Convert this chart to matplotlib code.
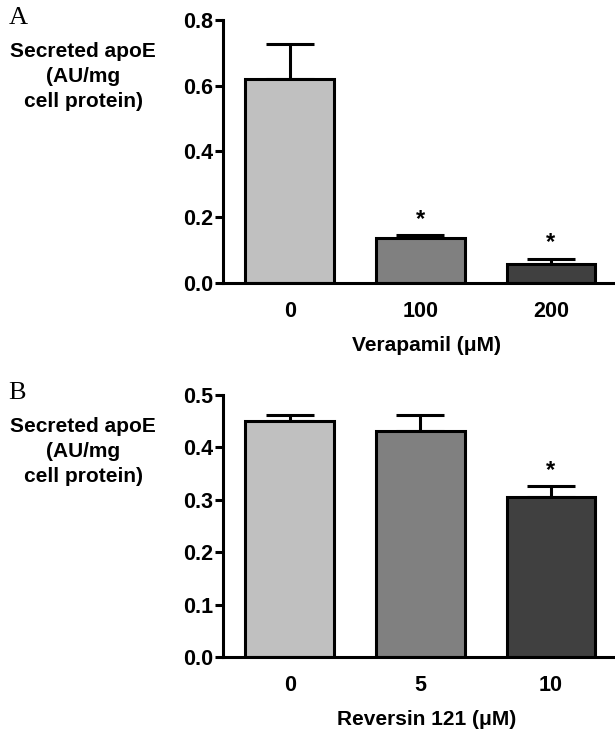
import matplotlib
matplotlib.use("Agg")
import matplotlib.pyplot as plt

# panel A: verapamil
verap_doses = ["0", "100", "200"]
verap_mean = [0.620, 0.138, 0.058]
verap_err = [0.107, 0.007, 0.016]
verap_sig = [False, True, True]

# panel B: reversin 121
rev_doses = ["0", "5", "10"]
rev_mean = [0.451, 0.432, 0.305]
rev_err = [0.011, 0.030, 0.021]
rev_sig = [False, False, True]

bar_colors = ["#c0c0c0", "#808080", "#404040"]
SANS = "Liberation Sans"
LW = 2.2
FS = 15

fig = plt.figure(figsize=(6.15, 7.31), dpi=100, facecolor="white")


def panel(rect, letter, letter_y, labels, means, errs, sig, ylim, yticks, xlabel):
    ax = fig.add_axes(rect)
    x = list(range(len(labels)))
    ax.bar(x, means, width=0.68, color=bar_colors, edgecolor="black", linewidth=LW, zorder=2)
    ax.errorbar(x, means, yerr=[[0] * len(errs), errs], fmt="none", ecolor="black",
                elinewidth=LW, capsize=17, capthick=LW, zorder=1)
    for xi, m, e, s in zip(x, means, errs, sig):
        if s:
            ax.annotate("*", (xi, m + e), xytext=(0, 3), textcoords="offset points",
                        ha="center", va="bottom", fontsize=17, fontweight="bold", family=SANS)
    ax.set_xlim(-0.51, 2.49)
    ax.set_ylim(*ylim)
    ax.set_yticks(yticks)
    ax.set_yticklabels([f"{t:.1f}" for t in yticks])
    ax.set_xticks(x)
    ax.set_xticklabels(labels)
    for sp in ("top", "right"):
        ax.spines[sp].set_visible(False)
    for sp in ("left", "bottom"):
        ax.spines[sp].set_linewidth(LW)
    ax.tick_params(axis="y", length=6, width=LW, pad=1)
    ax.tick_params(axis="x", length=0, pad=13)
    for t in ax.get_xticklabels() + ax.get_yticklabels():
        t.set_fontfamily(SANS)
        t.set_fontweight("bold")
        t.set_fontsize(FS + 0.5)
    ax.set_xlabel(xlabel, fontsize=FS, fontweight="bold", family=SANS)
    ax.xaxis.set_label_coords(0.52, -0.2)
    fig.text(0.014, letter_y, letter, family="Liberation Serif", fontsize=19, va="top")
    fig.text(0.135, letter_y - 0.049, "Secreted apoE\n(AU/mg\ncell protein)", ha="center",
             va="top", fontsize=FS, fontweight="bold", family=SANS, linespacing=1.38)
    return ax


panel([0.3626, 0.6129, 0.6374, 0.3597], "A", 0.991, verap_doses, verap_mean, verap_err,
      verap_sig, (0, 0.8), [0.0, 0.2, 0.4, 0.6, 0.8], "Verapamil (\u03bcM)")
panel([0.3626, 0.1008, 0.6374, 0.3588], "B", 0.478, rev_doses, rev_mean, rev_err,
      rev_sig, (0, 0.5), [0.0, 0.1, 0.2, 0.3, 0.4, 0.5], "Reversin 121 (\u03bcM)")

fig.savefig("out.png", dpi=100, facecolor="white")
